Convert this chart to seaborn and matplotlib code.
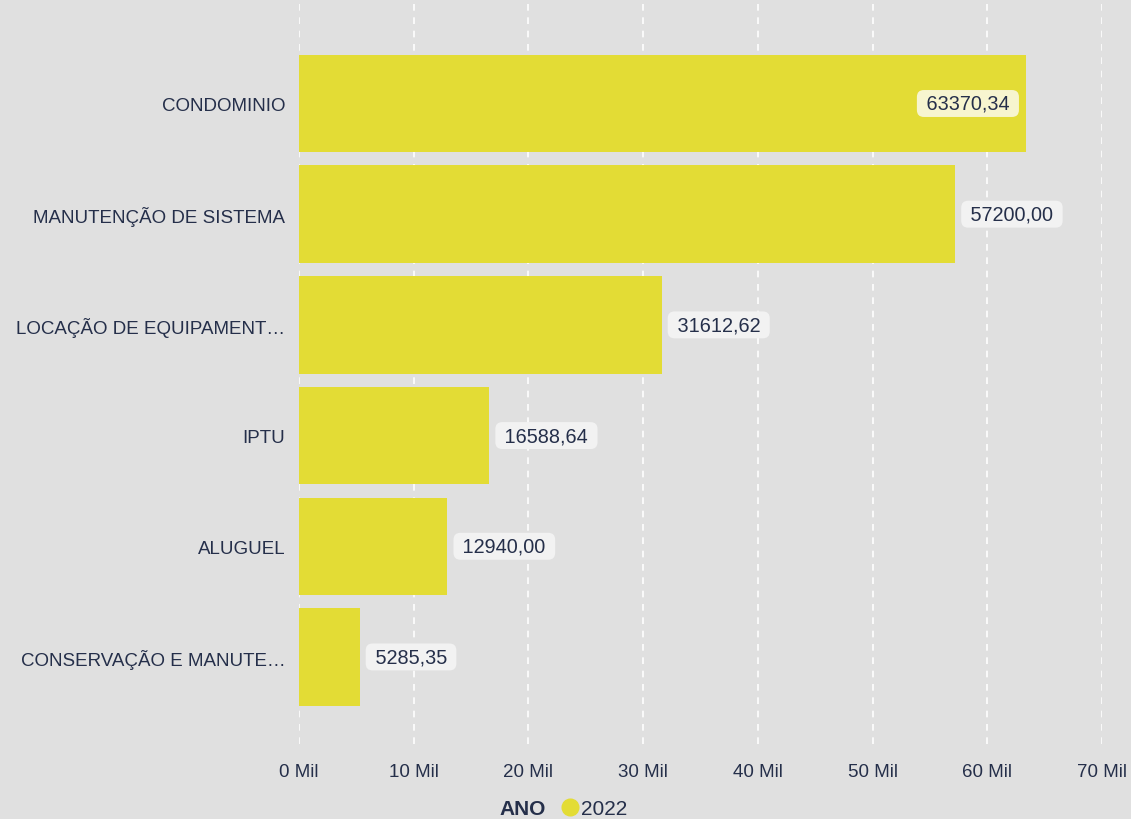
import matplotlib
matplotlib.use("Agg")
import matplotlib.pyplot as plt
import seaborn as sns
from matplotlib.lines import Line2D
from matplotlib.offsetbox import HPacker

# data
categories = ["CONDOMINIO", "MANUTENÇÃO DE SISTEMA", "LOCAÇÃO DE EQUIPAMENT…",
              "IPTU", "ALUGUEL", "CONSERVAÇÃO E MANUTE…"]
values = [63370.34, 57200.00, 31612.62, 16588.64, 12940.00, 5285.35]
x_ticks = [0, 10000, 20000, 30000, 40000, 50000, 60000, 70000]
x_tick_labels = ["0 Mil", "10 Mil", "20 Mil", "30 Mil", "40 Mil", "50 Mil", "60 Mil", "70 Mil"]
legend_title = "ANO"
series_name = "2022"

bg = "#e0e0e0"
bar_color = "#e3dc35"
text_color = "#252f4a"

sns.set_theme(style="white")
plt.rcParams["font.family"] = ["Liberation Sans", "DejaVu Sans"]

fig = plt.figure(figsize=(11.31, 8.2), dpi=100, facecolor=bg)
ax = fig.add_axes([0.2644, 0.0915, 0.71, 0.9085])
ax.set_facecolor(bg)

sns.barplot(x=values, y=categories, color=bar_color, orient="h", width=0.88,
            saturation=1, linewidth=0, edgecolor="none", ax=ax, zorder=2)

ax.set_xlim(0, 70000)
ax.set_ylim(5.786, -0.944)

for xt in x_ticks:
    ax.axvline(xt, color="white", linestyle=(0, (4, 4)), linewidth=1.2, zorder=1)

ax.set_xticks(x_ticks)
ax.set_xticklabels(x_tick_labels, fontsize=13.5, color=text_color)
ax.tick_params(axis="x", length=0, pad=14)
ax.tick_params(axis="y", length=0, pad=10, labelsize=13.5, labelcolor=text_color)
ax.set_xlabel("")
ax.set_ylabel("")
for s in ax.spines.values():
    s.set_visible(False)

# value labels (a space gives horizontal padding, box pad stays small vertically)
for i, v in enumerate(values):
    txt = " " + f"{v:.2f}".replace(".", ",") + " "
    if v > 60000:
        ax.text(v - 960, i, txt, ha="right", va="center", fontsize=14.3, color=text_color,
                zorder=4, bbox=dict(boxstyle="round,pad=0.2,rounding_size=0.35",
                                    fc="#f7f5cf", ec="none"))
    else:
        ax.text(v + 870, i, txt, ha="left", va="center", fontsize=14.3, color=text_color,
                zorder=4, bbox=dict(boxstyle="round,pad=0.2,rounding_size=0.35",
                                    fc="#f2f2f2", ec="none"))

# legend
handle = Line2D([], [], marker="o", linestyle="none", markersize=12,
                markerfacecolor=bar_color, markeredgecolor=bar_color)
leg = fig.legend([handle], [series_name], title=legend_title, loc="center",
                 bbox_to_anchor=(0.498, 0.013), frameon=False, fontsize=15,
                 handletextpad=0.0, handlelength=1.0, borderpad=0)
leg.get_title().set_fontweight("bold")
leg.get_title().set_fontsize(15)
leg.get_title().set_color(text_color)
# put title inline with the entry
leg._legend_box.__class__ = HPacker
leg._legend_box.sep = 10
for t in leg.get_texts():
    t.set_color(text_color)

fig.savefig("out.png", dpi=100, facecolor=bg)
